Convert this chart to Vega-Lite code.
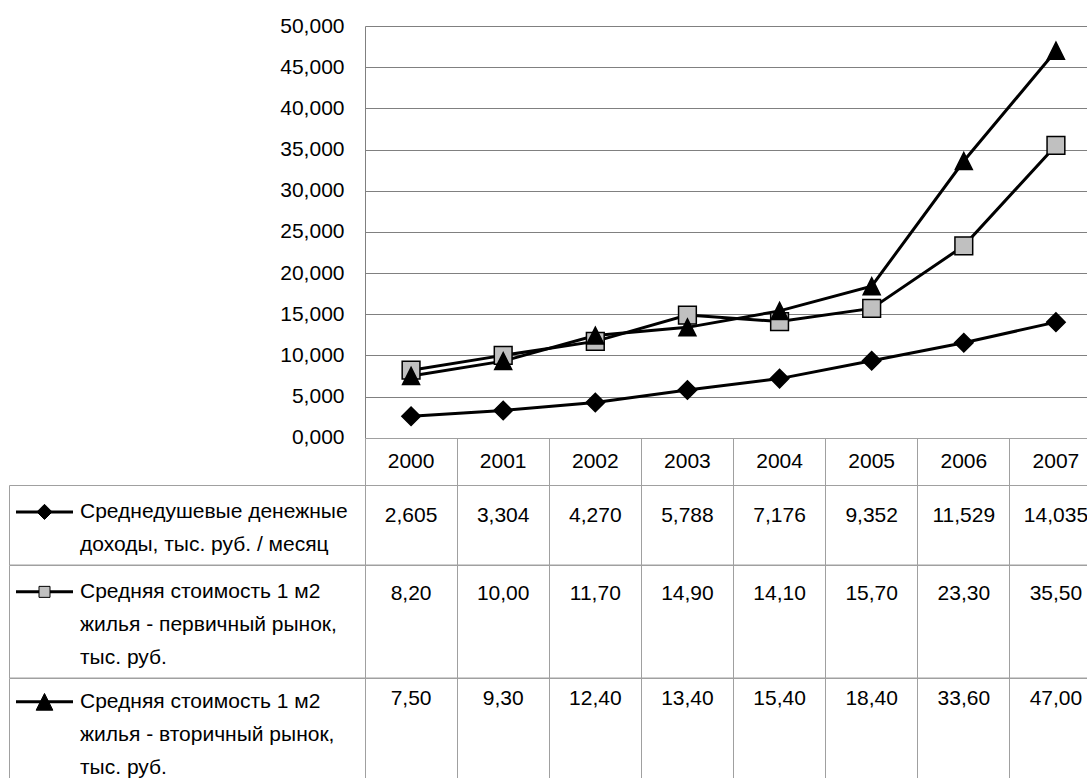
{
  "$schema": "https://vega.github.io/schema/vega-lite/v6.json",
  "padding": {"left": 8, "top": 15, "right": 0, "bottom": 0},
  "columns": 2,
  "spacing": 0,
  "bounds": "flush",
  "resolve": {"scale": {"x": "independent", "y": "independent"}},
  "datasets": {
    "series": [
      {"year": 2000, "series": "доходы", "value": 2.605},
      {"year": 2001, "series": "доходы", "value": 3.304},
      {"year": 2002, "series": "доходы", "value": 4.270},
      {"year": 2003, "series": "доходы", "value": 5.788},
      {"year": 2004, "series": "доходы", "value": 7.176},
      {"year": 2005, "series": "доходы", "value": 9.352},
      {"year": 2006, "series": "доходы", "value": 11.529},
      {"year": 2007, "series": "доходы", "value": 14.035},
      {"year": 2000, "series": "первичный", "value": 8.20},
      {"year": 2001, "series": "первичный", "value": 10.00},
      {"year": 2002, "series": "первичный", "value": 11.70},
      {"year": 2003, "series": "первичный", "value": 14.90},
      {"year": 2004, "series": "первичный", "value": 14.10},
      {"year": 2005, "series": "первичный", "value": 15.70},
      {"year": 2006, "series": "первичный", "value": 23.30},
      {"year": 2007, "series": "первичный", "value": 35.50},
      {"year": 2000, "series": "вторичный", "value": 7.50},
      {"year": 2001, "series": "вторичный", "value": 9.30},
      {"year": 2002, "series": "вторичный", "value": 12.40},
      {"year": 2003, "series": "вторичный", "value": 13.40},
      {"year": 2004, "series": "вторичный", "value": 15.40},
      {"year": 2005, "series": "вторичный", "value": 18.40},
      {"year": 2006, "series": "вторичный", "value": 33.60},
      {"year": 2007, "series": "вторичный", "value": 47.00}
    ],
    "labels": [
      {"series": "доходы", "line": 1, "text": "Среднедушевые денежные"},
      {"series": "доходы", "line": 2, "text": "доходы, тыс. руб. / месяц"},
      {"series": "первичный", "line": 1, "text": "Средняя стоимость 1 м2"},
      {"series": "первичный", "line": 2, "text": "жилья - первичный рынок,"},
      {"series": "первичный", "line": 3, "text": "тыс. руб."},
      {"series": "вторичный", "line": 1, "text": "Средняя стоимость 1 м2"},
      {"series": "вторичный", "line": 2, "text": "жилья - вторичный рынок,"},
      {"series": "вторичный", "line": 3, "text": "тыс. руб."}
    ]
  },
  "concat": [
    {
      "width": 356, "height": 411.7,
      "data": {"values": []},
      "mark": "point",
      "encoding": {}
    },
    {
      "width": 737, "height": 411.7,
      "data": {"name": "series"},
      "encoding": {
        "x": {"field": "year", "type": "ordinal", "scale": {"type": "point", "padding": 0.5}, "axis": null},
        "y": {"field": "value", "type": "quantitative", "scale": {"domain": [0, 50], "nice": false},
          "axis": {"values": [0, 5, 10, 15, 20, 25, 30, 35, 40, 45, 50], "format": ".3f", "grid": true, "gridColor": "#808080", "gridOpacity": 1, "ticks": false, "domain": true, "domainColor": "#808080", "labelPadding": 21, "labelFontSize": 21, "labelColor": "black", "title": null}}
      },
      "layer": [
        {"mark": {"type": "line", "color": "black", "strokeWidth": 3}, "encoding": {"detail": {"field": "series"}}},
        {"mark": {"type": "point", "filled": true, "opacity": 1, "stroke": "black", "strokeWidth": 1.5},
          "encoding": {
            "shape": {"field": "series", "type": "nominal", "scale": {"domain": ["доходы", "первичный", "вторичный"], "range": ["diamond", "square", "M0,-1L1,1L-1,1Z"]}, "legend": null},
            "fill": {"field": "series", "type": "nominal", "scale": {"domain": ["доходы", "первичный", "вторичный"], "range": ["black", "#c0c0c0", "black"]}, "legend": null},
            "size": {"field": "series", "type": "nominal", "scale": {"domain": ["доходы", "первичный", "вторичный"], "range": [342, 289, 560]}, "legend": null}
          }}
      ]
    },
    {
      "width": 356, "height": 47,
      "data": {"values": []},
      "mark": "point",
      "encoding": {}
    },
    {
      "width": 737, "height": 47,
      "data": {"name": "series"},
      "transform": [{"filter": "datum.series === 'доходы'"}],
      "view": {"stroke": "#a0a0a0"},
      "mark": {"type": "text", "fontSize": 21, "color": "black"},
      "encoding": {
        "x": {"field": "year", "type": "ordinal", "scale": {"type": "band", "paddingInner": 0, "paddingOuter": 0},
          "axis": {"orient": "bottom", "labels": false, "ticks": false, "domain": false, "grid": true, "gridColor": "#a0a0a0", "gridOpacity": 1, "bandPosition": 0, "title": null}},
        "text": {"field": "year", "type": "ordinal"}
      }
    },
    {
      "width": 356, "height": 79.5,
      "data": {"name": "labels"},
      "transform": [{"filter": "datum.series === 'доходы'"}],
      "view": {"stroke": "#a0a0a0"},
      "encoding": {"y": {"field": "line", "type": "ordinal", "scale": {"domain": [1, 2], "paddingInner": 0, "paddingOuter": 0.2, "align": 0.78}, "axis": null}},
      "layer": [
        {"transform": [{"filter": "datum.line === 1"}], "mark": {"type": "rule", "color": "black", "strokeWidth": 3},
          "encoding": {"x": {"datum": 0, "type": "quantitative", "scale": {"domain": [0, 1], "range": [7, 64], "nice": false, "zero": false}, "axis": null}, "x2": {"datum": 1}}},
        {"transform": [{"filter": "datum.line === 1"}], "mark": {"type": "point", "filled": true, "opacity": 1, "stroke": "black", "strokeWidth": 1, "size": 230},
          "encoding": {"x": {"datum": 0.5, "type": "quantitative"},
            "shape": {"field": "series", "type": "nominal", "scale": {"domain": ["доходы", "первичный", "вторичный"], "range": ["diamond", "square", "M0,-1L1,1L-1,1Z"]}, "legend": null},
            "fill": {"field": "series", "type": "nominal", "scale": {"domain": ["доходы", "первичный", "вторичный"], "range": ["black", "#c0c0c0", "black"]}, "legend": null}}},
        {"mark": {"type": "text", "align": "left", "fontSize": 21, "color": "black"},
          "encoding": {"x": {"datum": 1.1228, "type": "quantitative"}, "text": {"field": "text"}}}
      ]
    },
    {
      "width": 737, "height": 79.5,
      "data": {"name": "series"},
      "transform": [{"filter": "datum.series === 'доходы'"}],
      "view": {"stroke": "#a0a0a0"},
      "mark": {"type": "text", "fontSize": 21, "color": "black"},
      "encoding": {
        "x": {"field": "year", "type": "ordinal", "scale": {"type": "band", "paddingInner": 0, "paddingOuter": 0},
          "axis": {"orient": "bottom", "labels": false, "ticks": false, "domain": false, "grid": true, "gridColor": "#a0a0a0", "gridOpacity": 1, "bandPosition": 0, "title": null}},
        "y": {"datum": 1, "type": "ordinal", "scale": {"domain": [1, 2], "paddingInner": 0, "paddingOuter": 0.2, "align": 0.78}, "axis": null},
        "text": {"field": "value", "type": "quantitative", "format": ".3f"}
      }
    },
    {
      "width": 356, "height": 112.5,
      "data": {"name": "labels"},
      "transform": [{"filter": "datum.series === 'первичный'"}],
      "view": {"stroke": "#a0a0a0"},
      "encoding": {"y": {"field": "line", "type": "ordinal", "scale": {"domain": [1, 2, 3], "paddingInner": 0, "paddingOuter": 0.2, "align": 0.78}, "axis": null}},
      "layer": [
        {"transform": [{"filter": "datum.line === 1"}], "mark": {"type": "rule", "color": "black", "strokeWidth": 3},
          "encoding": {"x": {"datum": 0, "type": "quantitative", "scale": {"domain": [0, 1], "range": [7, 64], "nice": false, "zero": false}, "axis": null}, "x2": {"datum": 1}}},
        {"transform": [{"filter": "datum.line === 1"}], "mark": {"type": "point", "filled": true, "opacity": 1, "stroke": "black", "strokeWidth": 1, "size": 121},
          "encoding": {"x": {"datum": 0.5, "type": "quantitative"},
            "shape": {"field": "series", "type": "nominal", "scale": {"domain": ["доходы", "первичный", "вторичный"], "range": ["diamond", "square", "M0,-1L1,1L-1,1Z"]}, "legend": null},
            "fill": {"field": "series", "type": "nominal", "scale": {"domain": ["доходы", "первичный", "вторичный"], "range": ["black", "#c0c0c0", "black"]}, "legend": null}}},
        {"mark": {"type": "text", "align": "left", "fontSize": 21, "color": "black"},
          "encoding": {"x": {"datum": 1.1228, "type": "quantitative"}, "text": {"field": "text"}}}
      ]
    },
    {
      "width": 737, "height": 112.5,
      "data": {"name": "series"},
      "transform": [{"filter": "datum.series === 'первичный'"}],
      "view": {"stroke": "#a0a0a0"},
      "mark": {"type": "text", "fontSize": 21, "color": "black"},
      "encoding": {
        "x": {"field": "year", "type": "ordinal", "scale": {"type": "band", "paddingInner": 0, "paddingOuter": 0},
          "axis": {"orient": "bottom", "labels": false, "ticks": false, "domain": false, "grid": true, "gridColor": "#a0a0a0", "gridOpacity": 1, "bandPosition": 0, "title": null}},
        "y": {"datum": 1, "type": "ordinal", "scale": {"domain": [1, 2, 3], "paddingInner": 0, "paddingOuter": 0.2, "align": 0.78}, "axis": null},
        "text": {"field": "value", "type": "quantitative", "format": ".2f"}
      }
    },
    {
      "width": 356, "height": 112.5,
      "data": {"name": "labels"},
      "transform": [{"filter": "datum.series === 'вторичный'"}],
      "view": {"stroke": "#a0a0a0"},
      "encoding": {"y": {"field": "line", "type": "ordinal", "scale": {"domain": [1, 2, 3], "paddingInner": 0, "paddingOuter": 0.2, "align": 0.55}, "axis": null}},
      "layer": [
        {"transform": [{"filter": "datum.line === 1"}], "mark": {"type": "rule", "color": "black", "strokeWidth": 3},
          "encoding": {"x": {"datum": 0, "type": "quantitative", "scale": {"domain": [0, 1], "range": [7, 64], "nice": false, "zero": false}, "axis": null}, "x2": {"datum": 1}}},
        {"transform": [{"filter": "datum.line === 1"}], "mark": {"type": "point", "filled": true, "opacity": 1, "stroke": "black", "strokeWidth": 1, "size": 280},
          "encoding": {"x": {"datum": 0.5, "type": "quantitative"},
            "shape": {"field": "series", "type": "nominal", "scale": {"domain": ["доходы", "первичный", "вторичный"], "range": ["diamond", "square", "M0,-1L1,1L-1,1Z"]}, "legend": null},
            "fill": {"field": "series", "type": "nominal", "scale": {"domain": ["доходы", "первичный", "вторичный"], "range": ["black", "#c0c0c0", "black"]}, "legend": null}}},
        {"mark": {"type": "text", "align": "left", "fontSize": 21, "color": "black"},
          "encoding": {"x": {"datum": 1.1228, "type": "quantitative"}, "text": {"field": "text"}}}
      ]
    },
    {
      "width": 737, "height": 112.5,
      "data": {"name": "series"},
      "transform": [{"filter": "datum.series === 'вторичный'"}],
      "view": {"stroke": "#a0a0a0"},
      "mark": {"type": "text", "fontSize": 21, "color": "black"},
      "encoding": {
        "x": {"field": "year", "type": "ordinal", "scale": {"type": "band", "paddingInner": 0, "paddingOuter": 0},
          "axis": {"orient": "bottom", "labels": false, "ticks": false, "domain": false, "grid": true, "gridColor": "#a0a0a0", "gridOpacity": 1, "bandPosition": 0, "title": null}},
        "y": {"datum": 1, "type": "ordinal", "scale": {"domain": [1, 2, 3], "paddingInner": 0, "paddingOuter": 0.2, "align": 0.55}, "axis": null},
        "text": {"field": "value", "type": "quantitative", "format": ".2f"}
      }
    }
  ],
  "config": {
    "font": "Liberation Sans",
    "view": {"stroke": null},
    "locale": {"number": {"decimal": ",", "thousands": " ", "grouping": [3], "currency": ["", ""]}},
    "axis": {"labelFont": "Liberation Sans", "labelFontSize": 21, "labelColor": "black"}
  }
}
